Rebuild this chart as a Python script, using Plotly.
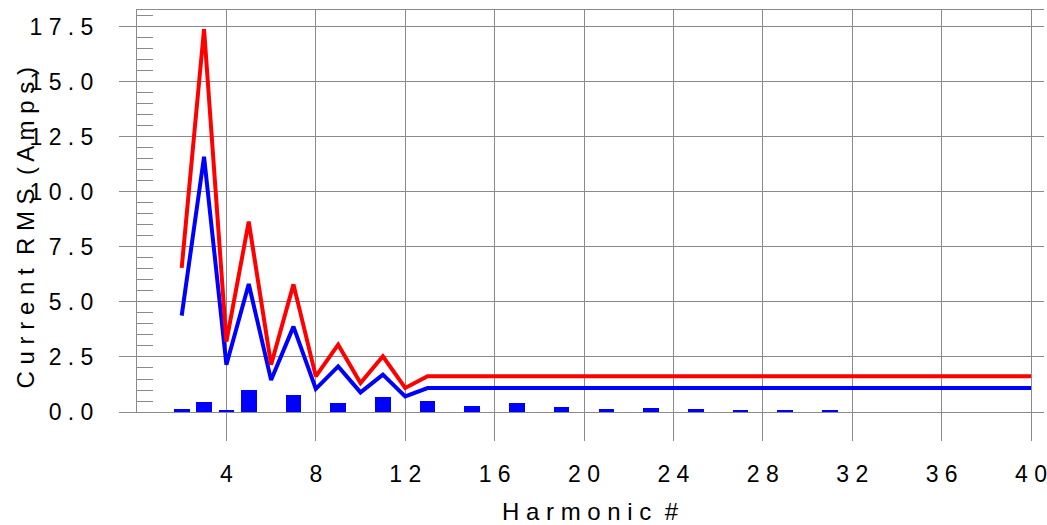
import plotly.graph_objects as go

# ---- data ----
harmonics = list(range(2, 41))
red_rms = [6.55, 17.4, 3.2, 8.65, 2.15, 5.8, 1.62, 3.06, 1.32, 2.53, 1.09, 1.62,
           1.62, 1.62, 1.62, 1.62, 1.62, 1.62, 1.62, 1.62, 1.62, 1.62, 1.62, 1.62,
           1.62, 1.62, 1.62, 1.62, 1.62, 1.62, 1.62, 1.62, 1.62, 1.62, 1.62, 1.62,
           1.62, 1.62, 1.62]
blue_rms = [4.38, 11.6, 2.15, 5.82, 1.45, 3.88, 1.05, 2.07, 0.89, 1.7, 0.71, 1.09,
            1.09, 1.09, 1.09, 1.09, 1.09, 1.09, 1.09, 1.09, 1.09, 1.09, 1.09, 1.09,
            1.09, 1.09, 1.09, 1.09, 1.09, 1.09, 1.09, 1.09, 1.09, 1.09, 1.09, 1.09,
            1.09, 1.09, 1.09]
bar_harmonics = [2, 3, 4, 5, 7, 9, 11, 13, 15, 17, 19, 21, 23, 25, 27, 29, 31]
bar_values = [0.13, 0.44, 0.1, 0.98, 0.79, 0.39, 0.66, 0.51, 0.29, 0.39, 0.24,
              0.15, 0.2, 0.13, 0.1, 0.1, 0.09]

x_tickvals = [4, 8, 12, 16, 20, 24, 28, 32, 36, 40]
x_ticktext = ["4", "8", "1 2", "1 6", "2 0", "2 4", "2 8", "3 2", "3 6", "4 0"]
y_tickvals = [0, 2.5, 5, 7.5, 10, 12.5, 15, 17.5]
y_ticktext = ["0 . 0", "2 . 5", "5 . 0", "7 . 5", "1 0 . 0", "1 2 . 5", "1 5 . 0", "1 7 . 5"]

x_title = "H a r m o n i c  #"
y_title = "C u r r e n t  R M S  ( A m p s )"

FONT = "Liberation Sans, Arial, sans-serif"
GRID = "#8a8a8a"

fig = go.Figure()
fig.add_trace(go.Bar(x=bar_harmonics, y=bar_values, width=0.7,
                     marker=dict(color="#0000ff", line=dict(width=0)), showlegend=False))
fig.add_trace(go.Scatter(x=harmonics, y=blue_rms, mode="lines",
                         line=dict(color="#0000ff", width=4), showlegend=False))
fig.add_trace(go.Scatter(x=harmonics, y=red_rms, mode="lines",
                         line=dict(color="#ff0000", width=4), showlegend=False))

fig.update_layout(
    width=1047, height=525,
    margin=dict(l=137, r=0, t=10, b=113),
    paper_bgcolor="white", plot_bgcolor="white",
    font=dict(family=FONT, color="black", size=23),
    bargap=0,
)
fig.update_xaxes(
    range=[0, 40.58], tickvals=x_tickvals, ticktext=x_ticktext,
    showgrid=True, gridcolor=GRID, gridwidth=1,
    ticks="outside", ticklen=28, tickcolor=GRID, tickwidth=1,
    showline=True, linecolor=GRID, linewidth=1, mirror=True,
    zeroline=False, ticklabelstandoff=13, ticklabeloverflow="allow",
)
fig.update_yaxes(
    range=[0, 18.27], tickvals=y_tickvals, ticktext=y_ticktext,
    showgrid=True, gridcolor=GRID, gridwidth=1,
    ticks="outside", ticklen=17, tickcolor=GRID, tickwidth=1,
    showline=True, linecolor=GRID, linewidth=1, mirror=False,
    zeroline=False, ticklabelstandoff=21,
    minor=dict(ticks="inside", ticklen=16, dtick=0.5, tick0=0, tickcolor=GRID, tickwidth=1, showgrid=False),
)
fig.add_annotation(text=x_title, xref="paper", yref="paper", x=0.5005, y=-0.2463,
                   xanchor="center", yanchor="middle", showarrow=False,
                   font=dict(family=FONT, size=24, color="black"))
fig.add_annotation(text=y_title, xref="paper", yref="paper", x=-0.123, y=0.4577,
                   xanchor="center", yanchor="middle", showarrow=False, textangle=-90,
                   font=dict(family=FONT, size=24, color="black"))

fig.write_html("out.html", post_script="document.body.style.margin='0';",
               config={"displayModeBar": False})
